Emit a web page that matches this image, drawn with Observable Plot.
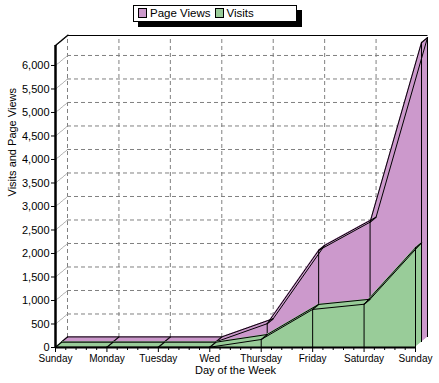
<!DOCTYPE html>
<html>
<head>
<meta charset="utf-8">
<script src="https://cdn.jsdelivr.net/npm/d3@7"></script>
<script src="https://cdn.jsdelivr.net/npm/@observablehq/plot@0.6"></script>
<style>
  html, body { margin: 0; padding: 0; background: #fff; }
  #wrap { position: relative; width: 439px; height: 383px; font-family: "Liberation Sans", Arial, sans-serif; }
  #legend { position: absolute; left: 133px; top: 5px; width: 162px; height: 15px; border: 1px solid #000; background: #fff;
            box-shadow: 5px 5px 0 #000; font-size: 11.5px; line-height: 15px; white-space: nowrap; }
  #legend .sw { display: inline-block; width: 7px; height: 8px; border: 1px solid #000; vertical-align: -1px; margin: 0 3px 0 4px; }
  #chart g[aria-label^="x-axis"] text { font-size: 10px; }
</style>
</head>
<body>
<div id="wrap">
  <div id="chart"></div>
  <div id="legend"></div>
</div>
<script>
const categories = ["Sunday", "Monday", "Tuesday", "Wed", "Thursday", "Friday", "Saturday", "Sunday"];
const pageViews = [12, 12, 12, 12, 400, 1960, 2560, 6380];
const visits = [6, 6, 6, 6, 170, 810, 920, 2120];
const yTicks = [0, 500, 1000, 1500, 2000, 2500, 3000, 3500, 4000, 4500, 5000, 5500, 6000];
const seriesNames = ["Page Views", "Visits"];
const seriesColors = ["#CC99CC", "#99CC99"];
const yMax = 6425;

const rows = categories.map((c, i) => ({i, c, pv: pageViews[i], v: visits[i]}));
const idx = d3.range(categories.length);
const minors = [];
for (let i = 0; i < categories.length - 1; i++) for (let k = 1; k < 5; k++) minors.push(i + k / 5);

const W = 6, H = 5, N = 12; // depth per series row (px)

function slab(key, row, color) {
  const m = [];
  for (let s = N; s >= 0; s--) {
    const dx = W * row + W * s / N, dy = -(H * row + H * s / N);
    m.push(Plot.areaY(rows, {x: "i", y: key, fill: color, dx, dy}));
    m.push(Plot.lineY(rows, {x: "i", y: key, stroke: color, strokeWidth: 1.2, dx, dy}));
  }
  const fx = W * row, fy = -H * row, bx = W * (row + 1), by = -H * (row + 1);
  m.push(Plot.lineY(rows, {x: "i", y: key, stroke: "#000", strokeWidth: 1, dx: bx, dy: by}));
  m.push(Plot.lineY(rows, {x: "i", y: key, stroke: "#000", strokeWidth: 1, dx: fx, dy: fy}));
  m.push(Plot.ruleX(rows, {x: "i", y1: 0, y2: key, stroke: "#000", dx: fx, dy: fy}));
  m.push(Plot.ruleX(rows.slice(-1), {x: "i", y1: 0, y2: key, stroke: "#000", dx: bx, dy: by}));
  for (let s = 0; s <= N; s++) {
    m.push(Plot.dot(rows, {x: "i", y: key, r: 0.6, fill: "#000", stroke: null, dx: fx + W * s / N, dy: fy - H * s / N}));
  }
  return m;
}

const wallMarks = [];
for (let s = 0; s <= 2 * N; s += 2) {
  wallMarks.push(Plot.dot(yTicks, {x: 0, y: d => d, r: 0.5, fill: "#999", stroke: null, dx: s * W / N, dy: -s * H / N}));
  wallMarks.push(Plot.dot([yMax], {x: 0, y: d => d, r: 0.7, fill: "#000", stroke: null, dx: s * W / N, dy: -s * H / N}));
  wallMarks.push(Plot.dot([yMax], {x: 0, y: d => d, r: 0.7, fill: "#000", stroke: null, dx: (s + 1) * W / N, dy: -(s + 1) * H / N}));
}

const chart = Plot.plot({
  width: 439,
  height: 383,
  marginLeft: 55,
  marginRight: 24,
  marginTop: 45,
  marginBottom: 36,
  style: {fontFamily: "'Liberation Sans', Arial, sans-serif", fontSize: "11px", background: "#fff", color: "#000"},
  x: {type: "linear", domain: [0, categories.length - 1], ticks: idx, tickFormat: i => categories[i], tickSize: 5, tickPadding: 2, label: null},
  y: {domain: [0, yMax], ticks: yTicks, tickFormat: d3.format(","), tickSize: 4, tickPadding: 2, label: null},
  marks: [
    Plot.ruleY(yTicks.filter(t => t > 0), {x1: 0, x2: categories.length - 1, stroke: "#808080", strokeDasharray: "4,3", dx: 2 * W, dy: -2 * H}),
    Plot.ruleX(idx, {y1: 0, y2: yMax, stroke: "#808080", strokeDasharray: "4,3", dx: 2 * W, dy: -2 * H}),
    Plot.ruleY([yMax], {x1: 0, x2: categories.length - 1, stroke: "#000", dx: 2 * W, dy: -2 * H}),
    ...wallMarks,
    ...slab("pv", 1, seriesColors[0]),
    ...slab("v", 0, seriesColors[1]),
    Plot.ruleX([0], {stroke: "#000", strokeWidth: 2.5}),
    Plot.ruleY([0], {stroke: "#000", strokeWidth: 2}),
    Plot.ruleX(minors, {y1: 0, y2: 0, stroke: "#000", insetTop: 0, insetBottom: -3}),
    Plot.text(["Visits and Page Views"], {frameAnchor: "left", rotate: -90, dx: -43, fontSize: 11}),
    Plot.text(["Day of the Week"], {frameAnchor: "bottom", dy: 26, fontSize: 11})
  ]
});
document.getElementById("chart").appendChild(chart);

const legend = document.getElementById("legend");
legend.innerHTML = seriesNames.map((n, k) =>
  `<span class="sw" style="background:${seriesColors[k]}"></span>${n}`).join("");
</script>
</body>
</html>
